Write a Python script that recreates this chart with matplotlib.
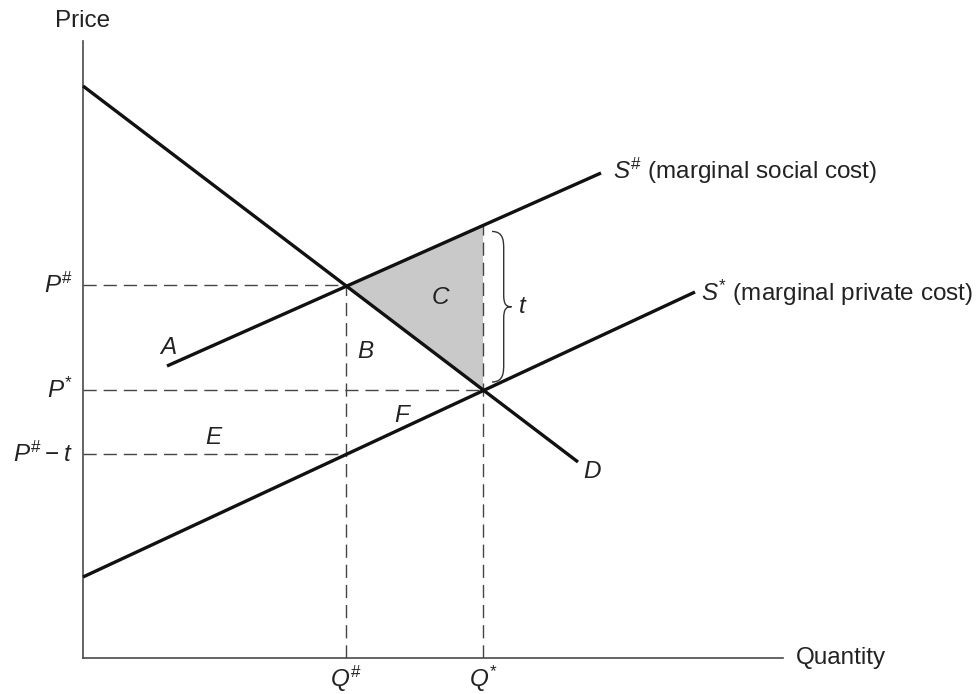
import numpy as np
import matplotlib
matplotlib.use("Agg")
import matplotlib.pyplot as plt
from matplotlib.path import Path
from matplotlib.patches import PathPatch, Polygon

plt.rcParams['font.family'] = ['Liberation Sans', 'DejaVu Sans']
plt.rcParams['mathtext.fontset'] = 'custom'
plt.rcParams['mathtext.rm'] = 'Liberation Sans'
plt.rcParams['mathtext.it'] = 'Liberation Sans:italic'
plt.rcParams['mathtext.bf'] = 'Liberation Sans:bold'

# ---- data (diagram units) ----
q_sharp = 263
q_star = 400
p_sharp = 373
p_star = 268
p_sharp_minus_t = 204

demand_x = [0, 495]
demand_y = [572, 196]
private_x = [0, 612]
private_y = [81, 366]
social_x = [84, 518]
social_y = [292, 485]

price_labels = [r'$P^{\#}$', r'$P^{*}$', r'$P^{\#}-t$']
quantity_labels = [r'$Q^{\#}$', r'$Q^{*}$']

W, H = 979, 694
fig = plt.figure(figsize=(W / 100, H / 100), dpi=100)
ax = fig.add_axes([83 / W, (H - 658) / H, 700 / W, 617 / H])
ax.set_xlim(0, 700)
ax.set_ylim(0, 617)
ax.set_xticks([])
ax.set_yticks([])
for s in ['top', 'right']:
    ax.spines[s].set_visible(False)
for s in ['left', 'bottom']:
    ax.spines[s].set_color('#4a4a4a')
    ax.spines[s].set_linewidth(1.2)

txt = '#222222'
fs = 17.5

s_sharp_at_qstar = float(np.polyval(np.polyfit(social_x, social_y, 1), q_star))

# shaded triangle C
tri = Polygon([[q_sharp, p_sharp], [q_star, s_sharp_at_qstar], [q_star, p_star]],
              closed=True, facecolor='#c9c9c9', edgecolor='none', zorder=1)
ax.add_patch(tri)

# dashed guide lines
dkw = dict(color='#444444', lw=1.0, dashes=(9.5, 5), zorder=2)
ax.plot([0, q_sharp], [p_sharp, p_sharp], **dkw)
ax.plot([0, q_star], [p_star, p_star], **dkw)
ax.plot([0, q_sharp], [p_sharp_minus_t, p_sharp_minus_t], **dkw)
ax.plot([q_sharp, q_sharp], [0, p_sharp], **dkw)
ax.plot([q_star, q_star], [0, s_sharp_at_qstar], **dkw)

# curves
ckw = dict(color='#111111', lw=2.4, solid_capstyle='butt', zorder=3, clip_on=False)
ax.plot(demand_x, demand_y, **ckw)
ax.plot(private_x, private_y, **ckw)
ax.plot(social_x, social_y, **ckw)

# brace for t
bx = q_star + 9
top = s_sharp_at_qstar - 6
bot = p_star + 8
mid = (top + bot) / 2
w = 13
verts = [
    (bx, top), (bx + w * 0.9, top), (bx + w * 0.9, top - 10), (bx + w * 0.9, top - 18),
    (bx + w * 0.9, mid + 12),
    (bx + w * 0.9, mid + 2), (bx + w * 1.1, mid), (bx + w * 1.5, mid),
    (bx + w * 1.1, mid), (bx + w * 0.9, mid - 2), (bx + w * 0.9, mid - 12),
    (bx + w * 0.9, bot + 18),
    (bx + w * 0.9, bot + 10), (bx + w * 0.9, bot), (bx, bot),
]
codes = [Path.MOVETO, Path.CURVE4, Path.CURVE4, Path.CURVE4,
         Path.LINETO,
         Path.CURVE4, Path.CURVE4, Path.CURVE4,
         Path.CURVE4, Path.CURVE4, Path.CURVE4,
         Path.LINETO,
         Path.CURVE4, Path.CURVE4, Path.CURVE4]
ax.add_patch(PathPatch(Path(verts, codes), facecolor='none', edgecolor='#333333', lw=1.0, zorder=3))
ax.text(bx + w * 1.5 + 11, mid, r'$t$', fontsize=fs, color=txt, ha='center', va='center')

# axis titles
ax.text(0, 637, 'Price', fontsize=fs, color=txt, ha='center', va='center', clip_on=False)
ax.text(713, 0, 'Quantity', fontsize=fs, color=txt, ha='left', va='center', clip_on=False)

# price tick labels
for lab, p in zip(price_labels, [p_sharp, p_star, p_sharp_minus_t]):
    ax.text(-10, p, lab, fontsize=fs, color=txt, ha='right', va='center', clip_on=False)
for lab, q in zip(quantity_labels, [q_sharp, q_star]):
    ax.text(q, -21, lab, fontsize=fs, color=txt, ha='center', va='center', clip_on=False)

# curve labels
ax.text(social_x[1] + 12, social_y[1] + 2, r'$S^{\#}$ (marginal social cost)', fontsize=fs,
        color=txt, ha='left', va='center', clip_on=False)
ax.text(private_x[1] + 6, private_y[1] - 1, r'$S^{*}$ (marginal private cost)', fontsize=fs,
        color=txt, ha='left', va='center', clip_on=False)
ax.text(demand_x[1] + 14, demand_y[1] - 9, 'D', fontsize=fs, style='italic', color=txt,
        ha='center', va='center')

# area labels
area = [('A', 85, 311), ('B', 282, 306), ('C', 357, 360), ('E', 130, 220), ('F', 319, 243)]
for lab, x, y in area:
    ax.text(x, y, lab, fontsize=fs, style='italic', color=txt, ha='center', va='center')

fig.savefig('out.png', dpi=100, facecolor='white')
